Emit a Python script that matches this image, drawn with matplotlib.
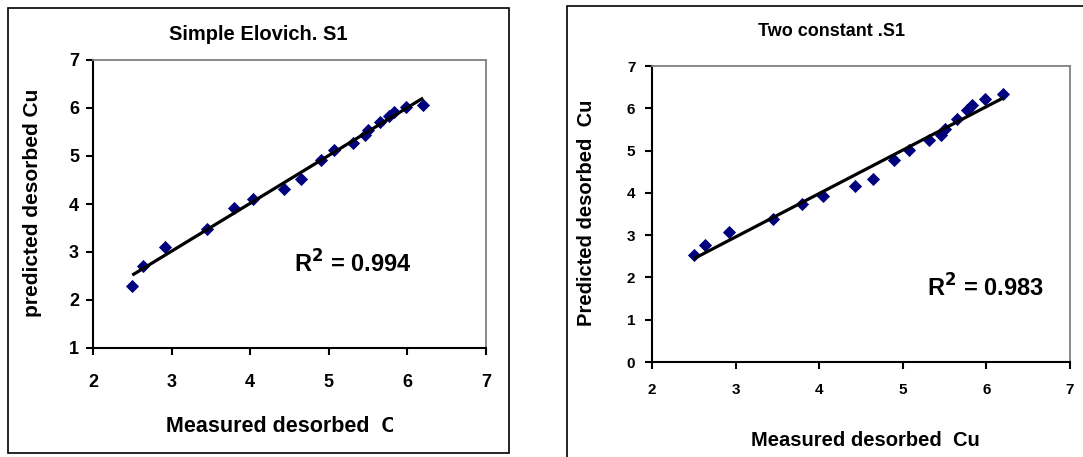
import numpy as np
import matplotlib
matplotlib.use("Agg")
import matplotlib.pyplot as plt
from matplotlib.patches import Rectangle

plt.rcParams["font.family"] = ["Liberation Sans", "DejaVu Sans"]
plt.rcParams["font.weight"] = "bold"

# measured desorbed Cu (shared by both panels)
measured = [2.50, 2.63, 2.92, 3.45, 3.80, 4.04, 4.43, 4.64, 4.90, 5.07,
            5.31, 5.46, 5.50, 5.65, 5.77, 5.83, 5.98, 6.20]
pred_elovich = [2.29, 2.71, 3.11, 3.48, 3.91, 4.11, 4.32, 4.52, 4.91, 5.13,
                5.28, 5.44, 5.55, 5.70, 5.84, 5.91, 6.03, 6.07]
pred_twoconst = [2.52, 2.77, 3.07, 3.37, 3.74, 3.92, 4.17, 4.32, 4.77, 5.01,
                 5.24, 5.37, 5.52, 5.75, 5.97, 6.07, 6.22, 6.33]

W, H = 1083, 457
fig = plt.figure(figsize=(W / 100, H / 100), dpi=100)


def fx(px):
    return px / W


def fy(py):
    return 1 - py / H


def panel(box, x, y, ylim, yticks, tick_fs, xpad, ypad, r2, r2_pos):
    l, t, r, b = box
    ax = fig.add_axes([fx(l), fy(b), fx(r) - fx(l), fy(t) - fy(b)])
    ax.scatter(x, y, marker="D", s=45, color="#00007f", zorder=3, linewidths=0)
    k, c = np.polyfit(x, y, 1)
    xs = np.array([min(x), max(x)])
    ax.plot(xs, k * xs + c, color="black", lw=2.3, zorder=4, solid_capstyle="butt")
    ax.set_xlim(2, 7)
    ax.set_ylim(*ylim)
    ax.set_xticks(range(2, 8))
    ax.set_yticks(yticks)
    for s in ("top", "right"):
        ax.spines[s].set_color("#808080")
        ax.spines[s].set_linewidth(1.3)
    for s in ("left", "bottom"):
        ax.spines[s].set_color("black")
        ax.spines[s].set_linewidth(1.5)
    ax.tick_params(axis="x", direction="out", length=5, width=1.5, pad=xpad, labelsize=tick_fs)
    ax.tick_params(axis="y", direction="out", length=5, width=1.5, pad=ypad, labelsize=tick_fs)
    for lab in ax.get_xticklabels() + ax.get_yticklabels():
        lab.set_fontweight("bold")
    ax.text(r2_pos[0], r2_pos[1], r2, transform=ax.transData, fontsize=17,
            fontweight="bold", ha="left", va="baseline")
    return ax


# left panel: Simple Elovich
fig.add_artist(Rectangle((fx(8), fy(453)), fx(509) - fx(8), fy(8) - fy(453),
                         transform=fig.transFigure, fill=False, ec="black", lw=1.2))
panel((93, 60, 486, 348), measured, pred_elovich, (1, 7), range(1, 8), 13, 14, 5,
      r"R$^{\mathbf{2}}$ = 0.994", (4.56, 2.58))
fig.text(fx(258), fy(35), "Simple Elovich. S1", fontsize=14.5, fontweight="bold",
         ha="center", va="center")
fig.text(fx(33), fy(203), "predicted desorbed Cu", fontsize=15, fontweight="bold",
         rotation=90, ha="center", va="center")
fig.text(fx(166), fy(427), "Measured desorbed  Cu", fontsize=15.5, fontweight="bold",
         ha="left", va="center")
# the label is cut off at the chart edge in the original
fig.add_artist(Rectangle((fx(393), fy(445)), fx(505) - fx(393), fy(410) - fy(445),
                         transform=fig.transFigure, fc="white", ec="none", zorder=5))

# right panel: Two constant
fig.add_artist(Rectangle((fx(567), fy(470)), fx(1100) - fx(567), fy(6) - fy(470),
                         transform=fig.transFigure, fill=False, ec="black", lw=1.2,
                         clip_on=False))
panel((652, 66, 1070, 362), measured, pred_twoconst, (0, 7), range(0, 8), 11, 10, 7,
      r"R$^{\mathbf{2}}$ = 0.983", (5.29, 1.54))
fig.text(fx(832), fy(32), "Two constant .S1", fontsize=13, fontweight="bold",
         ha="center", va="center")
fig.text(fx(586), fy(213), "Predicted desorbed  Cu", fontsize=14.5, fontweight="bold",
         rotation=90, ha="center", va="center")
fig.text(fx(865), fy(441), "Measured desorbed  Cu", fontsize=14.5, fontweight="bold",
         ha="center", va="center")

fig.savefig("out.png", dpi=100)
